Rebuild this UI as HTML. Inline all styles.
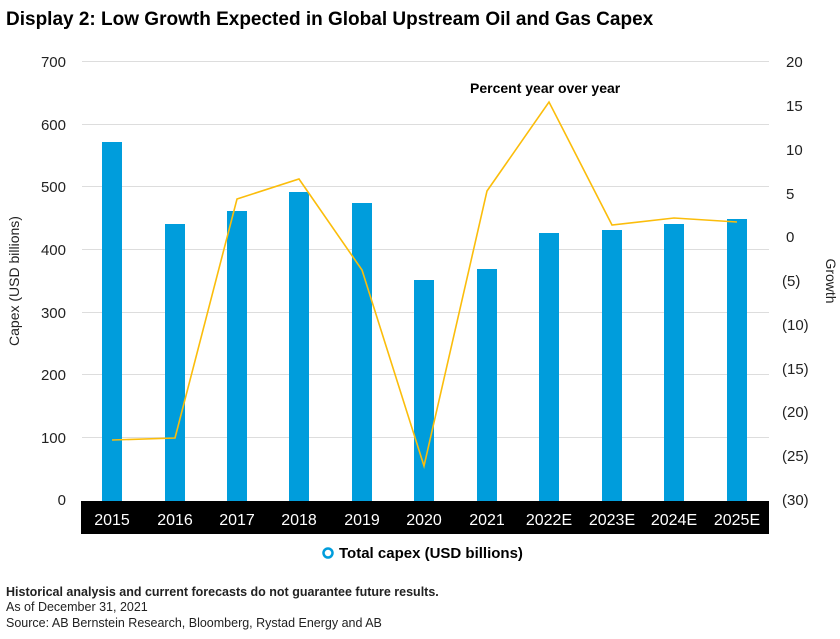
<!DOCTYPE html>
<html><head><meta charset="utf-8"><style>
body{margin:0;background:#fff;width:840px;height:634px;overflow:hidden}
</style></head><body>
<svg width="840" height="634" xmlns="http://www.w3.org/2000/svg" font-family="Liberation Sans, sans-serif">
<text x="6" y="25" font-size="19" font-weight="bold" fill="#000">Display 2: Low Growth Expected in Global Upstream Oil and Gas Capex</text>
<g stroke="#ddd" stroke-width="1">
<line x1="82" x2="769" y1="61.5" y2="61.5"/><line x1="82" x2="769" y1="124.5" y2="124.5"/><line x1="82" x2="769" y1="186.5" y2="186.5"/><line x1="82" x2="769" y1="249.5" y2="249.5"/><line x1="82" x2="769" y1="312.5" y2="312.5"/><line x1="82" x2="769" y1="374.5" y2="374.5"/><line x1="82" x2="769" y1="437.5" y2="437.5"/>
</g>
<g font-size="15" fill="#222" text-anchor="end">
<text x="66" y="67">700</text><text x="66" y="130">600</text><text x="66" y="192">500</text><text x="66" y="255">400</text><text x="66" y="318">300</text><text x="66" y="380">200</text><text x="66" y="443">100</text><text x="66" y="505">0</text>
</g>
<g font-size="15" fill="#222">
<text x="786" y="67">20</text><text x="786" y="111">15</text><text x="786" y="155">10</text><text x="786" y="199">5</text><text x="786" y="242">0</text><text x="782" y="286">(5)</text><text x="782" y="330">(10)</text><text x="782" y="374">(15)</text><text x="782" y="417">(20)</text><text x="782" y="461">(25)</text><text x="782" y="505">(30)</text>
</g>
<text transform="translate(19,281) rotate(-90)" font-size="14" fill="#222" text-anchor="middle">Capex (USD billions)</text>
<text transform="translate(826,281) rotate(90)" font-size="14" fill="#222" text-anchor="middle">Growth</text>
<g fill="#009ddc">
<rect x="102" y="142" width="20" height="359"/>
<rect x="165" y="224" width="20" height="277"/>
<rect x="227" y="211" width="20" height="290"/>
<rect x="289" y="192" width="20" height="309"/>
<rect x="352" y="203" width="20" height="298"/>
<rect x="414" y="280" width="20" height="221"/>
<rect x="477" y="269" width="20" height="232"/>
<rect x="539" y="233" width="20" height="268"/>
<rect x="602" y="230" width="20" height="271"/>
<rect x="664" y="224" width="20" height="277"/>
<rect x="727" y="219" width="20" height="282"/>
</g>
<polyline fill="none" stroke="#fbbd0b" stroke-width="1.6" points="112,440 175,438 237,199 299,179 362,270 424,466 487,191 549,102 612,225 674,218 737,222"/>
<text x="470" y="93" font-size="14" font-weight="bold" fill="#000">Percent year over year</text>
<rect x="81" y="501" width="688" height="33" fill="#000"/>
<g font-size="16" fill="#fff" text-anchor="middle">
<text x="112" y="525">2015</text><text x="175" y="525">2016</text><text x="237" y="525">2017</text><text x="299" y="525">2018</text><text x="362" y="525">2019</text><text x="424" y="525">2020</text><text x="487" y="525">2021</text><text x="549" y="525">2022E</text><text x="612" y="525">2023E</text><text x="674" y="525">2024E</text><text x="737" y="525">2025E</text>
</g>
<circle cx="328" cy="553" r="4.5" fill="none" stroke="#009ddc" stroke-width="2.5"/>
<text x="339" y="558" font-size="15" font-weight="bold" fill="#000">Total capex (USD billions)</text>
<text x="6" y="596" font-size="12.5" font-weight="bold" fill="#222">Historical analysis and current forecasts do not guarantee future results.</text>
<text x="6" y="611" font-size="12.5" fill="#222">As of December 31, 2021</text>
<text x="6" y="627" font-size="12.5" fill="#222">Source: AB Bernstein Research, Bloomberg, Rystad Energy and AB</text>
</svg>
</body></html>
